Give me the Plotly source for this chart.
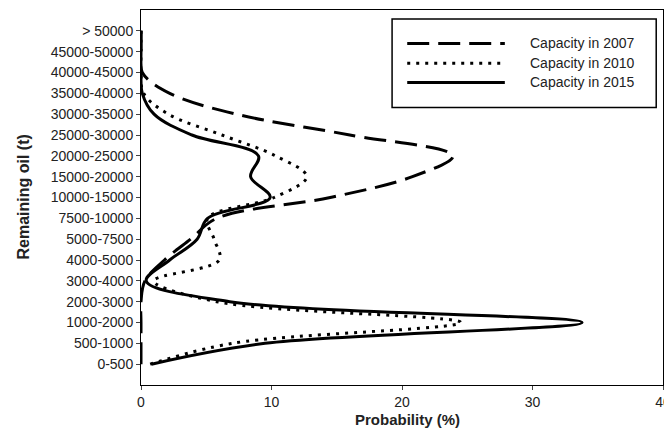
import plotly.graph_objects as go

categories = ["0-500", "500-1000", "1000-2000", "2000-3000", "3000-4000", "4000-5000",
              "5000-7500", "7500-10000", "10000-15000", "15000-20000", "20000-25000",
              "25000-30000", "30000-35000", "35000-40000", "40000-45000", "45000-50000",
              "> 50000"]
cap2007 = [0, 0, 0, 0, 0.3, 1.8, 3.8, 5.8, 14.5, 20.8, 23.9, 16.0, 7.3, 2.2, 0.1, 0, 0]
cap2010 = [0.7, 7.0, 24.5, 5.8, 1.0, 6.0, 5.6, 5.1, 10.2, 12.7, 10.3, 6.2, 2.1, 0.2, 0, 0, 0]
cap2015 = [0.8, 9.5, 33.8, 6.8, 0.4, 2.2, 4.3, 5.1, 9.9, 8.4, 9.0, 3.9, 1.0, 0.1, 0, 0, 0]
series_names = ["Capacity in 2007", "Capacity in 2010", "Capacity in 2015"]
x_ticks = [0, 10, 20, 30, 40]
x_title = "Probability (%)"
y_title = "Remaining oil (t)"

FONT = "Liberation Sans, Arial, sans-serif"
TXT = "#222"
styles = [dict(dash="22px,9px", width=3),
          dict(dash="3px,6px", width=3),
          dict(dash="solid", width=3)]

fig = go.Figure()
for name, vals, st in zip(series_names, [cap2007, cap2010, cap2015], styles):
    fig.add_trace(go.Scatter(
        x=vals, y=categories, mode="lines", name=name,
        line=dict(color="black", shape="spline", smoothing=1.0, **st),
        showlegend=False))

# legend box (drawn by hand to match the long line samples)
fig.add_shape(type="rect", xref="paper", yref="paper", x0=0.481, x1=0.987, y0=0.740, y1=0.976,
              line=dict(color="black", width=1.5), fillcolor="white", layer="above")
rows = [0.911, 0.858, 0.807]
for name, st, yy in zip(series_names, styles, rows):
    fig.add_shape(type="line", xref="paper", yref="paper", x0=0.510, x1=0.697, y0=yy, y1=yy,
                  line=dict(color="black", width=st["width"], dash=st["dash"]), layer="above")
    fig.add_annotation(xref="paper", yref="paper", x=0.741, y=yy, text=name, showarrow=False,
                       xanchor="left", yanchor="middle", font=dict(family=FONT, size=14, color=TXT))

# axis titles
fig.add_annotation(xref="paper", yref="paper", x=0.5, y=0, yshift=-34, xshift=5,
                   text="<b>%s</b>" % x_title, showarrow=False, xanchor="center", yanchor="middle",
                   font=dict(family=FONT, size=15, color=TXT))
fig.add_annotation(xref="paper", yref="paper", x=0, y=0.5, xshift=-118,
                   text="<b>%s</b>" % y_title, showarrow=False, textangle=-90,
                   xanchor="center", yanchor="middle", font=dict(family=FONT, size=16, color=TXT))

# page body has an 8px margin, so the figure is sized to end at the window edge
fig.update_layout(
    width=664, height=427,
    margin=dict(l=133, r=9, t=2, b=50),
    paper_bgcolor="white", plot_bgcolor="white",
    font=dict(family=FONT, size=14, color=TXT),
)
fig.update_xaxes(range=[0, 40], tickvals=x_ticks, ticks="outside", ticklen=4, tickwidth=1,
                 showline=True, linecolor="black", linewidth=1, mirror=True, showgrid=False,
                 zeroline=False, automargin=False)
fig.update_yaxes(type="category", categoryorder="array", categoryarray=categories,
                 range=[-1, 17], ticks="outside", ticklen=4, tickwidth=1,
                 showline=True, linecolor="black", linewidth=1, mirror=True, showgrid=False,
                 zeroline=False, automargin=False)

fig.write_html("out.html")
